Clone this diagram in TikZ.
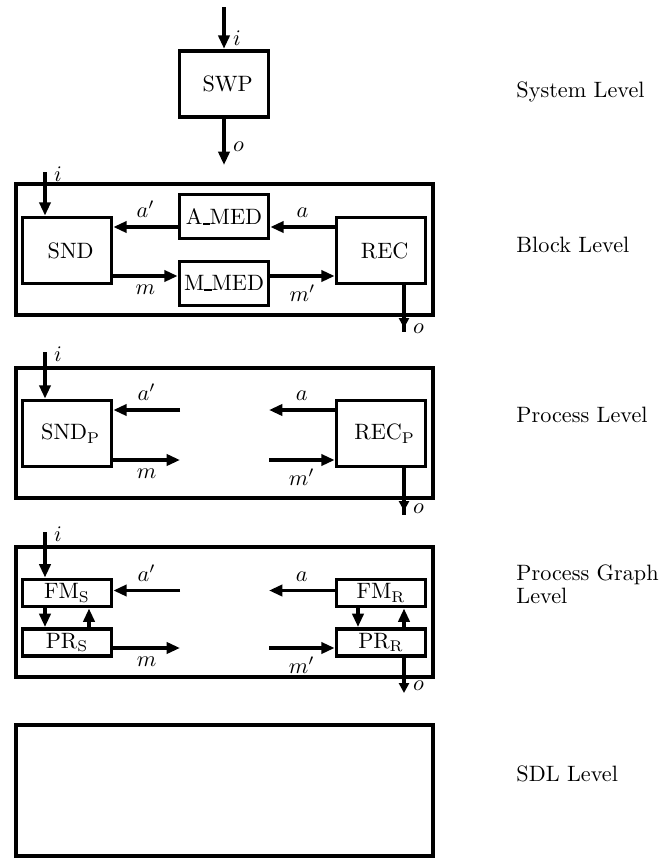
\documentclass[tikz,border=0pt]{standalone}
\usetikzlibrary{positioning,arrows.meta}
\newcommand\lowbar{\rule[-0.2pt]{0.32em}{0.9pt}}
\begin{document}
\begin{tikzpicture}[
    x=0.45pt, y=-0.45pt,
    box/.style={draw, line width=1.7pt, minimum width=40pt, minimum height=29.7pt, inner sep=1pt},
    medbox/.style={box, minimum height=19.8pt},
    flatbox/.style={box, minimum height=12.2pt},
    frame/.style={draw, line width=2pt, minimum width=187.6pt, minimum height=59pt},
    arr/.style={line width=1.5pt, -{Triangle[length=6pt,width=5pt]}},
    tip/.style={line width=1.5pt, -{Triangle[length=4.5pt,width=4.5pt]}},
    wire/.style={line width=1.5pt},
    lvl/.style={anchor=base west, align=left, inner sep=0pt}
]
\useasboundingbox (0,0) rectangle (660,861);

% columns and rows used by the connectors
\coordinate (cin) at (45,0);
\coordinate (cout) at (404,0);

% System level
\node[box, minimum height=30pt] (SWP) at (224,84) {\ SWP};
\coordinate (i0) at (224,7);
\coordinate (o0) at (224,165);
\draw[arr] (i0) -- node[right, pos=0.75] {$i$} (SWP.north);
\draw[arr] (SWP.south) -- node[right, pos=0.6] {$o$} (o0);
\node[lvl] (L0) at (516,97) {System Level};

% Block level
\node[frame] (F1) at (224.5,249.5) {};
\node[box] (SND) at (67,250.5) {\ SND};
\node[medbox] (AMED) at (224,216.5) {A\lowbar MED};
\node[medbox] (MMED) at (224,283.5) {M\lowbar MED};
\node[box] (REC) at (381,250.5) {\ REC};
\coordinate (ra1) at (0,227);
\coordinate (rm1) at (0,276);
\coordinate (i1) at (45,172);
\coordinate (o1) at (404,328);
\coordinate (e1) at (404,332);
\draw[arr] (i1) -- node[right, pos=0.05] {$i$} (SND.north -| cin);
\draw[arr] (AMED.west |- ra1) -- node[above] {$a'$} (SND.east |- ra1);
\draw[arr] (REC.west |- ra1) -- node[above] {$a$} (AMED.east |- ra1);
\draw[arr] (SND.east |- rm1) -- node[below] {$m$} (MMED.west |- rm1);
\draw[arr] (MMED.east |- rm1) -- node[below] {$m'$} (REC.west |- rm1);
\draw[tip] (REC.south -| cout) -- (o1);
\draw[wire] (F1.south -| cout) -- node[right, pos=0.75] {$o$} (e1);
\node[lvl] (L1) at (516,252) {Block Level};

% Process level
\node[frame, minimum height=58.5pt] (F2) at (224.5,433) {};
\node[box] (SNDP) at (67,433.5) {\ SND$_{\mathrm{P}}$};
\node[box] (RECP) at (381,433.5) {\ REC$_{\mathrm{P}}$};
\coordinate (sa2) at (180,410);
\coordinate (ta2) at (269,410);
\coordinate (sm2) at (180,460);
\coordinate (tm2) at (269,460);
\coordinate (i2) at (45,352);
\coordinate (o2) at (404,511);
\coordinate (e2) at (404,515);
\draw[arr] (i2) -- node[right, pos=0.05] {$i$} (SNDP.north -| cin);
\draw[arr] (sa2) -- node[above] {$a'$} (SNDP.east |- sa2);
\draw[arr] (RECP.west |- ta2) -- node[above] {$a$} (ta2);
\draw[arr] (SNDP.east |- sm2) -- node[below] {$m$} (sm2);
\draw[arr] (tm2) -- node[below] {$m'$} (RECP.west |- tm2);
\draw[tip] (RECP.south -| cout) -- (o2);
\draw[wire] (F2.south -| cout) -- node[right, pos=0.6] {$o$} (e2);
\node[lvl] (L2) at (516,422) {Process Level};

% Process graph level
\node[frame, minimum height=58.5pt] (F3) at (224.5,612) {};
\node[flatbox] (FMS) at (67,593) {FM$_{\mathrm{S}}$};
\node[flatbox] (PRS) at (67,642.5) {PR$_{\mathrm{S}}$};
\node[flatbox] (FMR) at (381,593) {FM$_{\mathrm{R}}$};
\node[flatbox] (PRR) at (381,642.5) {PR$_{\mathrm{R}}$};
\coordinate (cup) at (89,0);
\coordinate (cdn) at (358,0);
\coordinate (sa3) at (180,590.5);
\coordinate (ta3) at (269,590.5);
\coordinate (sm3) at (180,648);
\coordinate (tm3) at (269,648);
\coordinate (i3) at (45,532);
\coordinate (o3) at (404,693);
\draw[arr] (i3) -- node[right, pos=0.05] {$i$} (FMS.north -| cin);
\draw[arr] (FMS.south -| cin) -- (PRS.north -| cin);
\draw[arr] (PRS.north -| cup) -- (FMS.south -| cup);
\draw[arr] (FMR.south -| cdn) -- (PRR.north -| cdn);
\draw[arr] (PRR.north -| cout) -- (FMR.south -| cout);
\draw[arr] (sa3) -- node[above] {$a'$} (FMS.east |- sa3);
\draw[arr] (FMR.west |- ta3) -- node[above] {$a$} (ta3);
\draw[arr] (PRS.east |- sm3) -- node[below] {$m$} (sm3);
\draw[arr] (tm3) -- node[below] {$m'$} (PRR.west |- tm3);
\draw[tip] (PRR.south -| cout) -- node[right, pos=0.8] {$o$} (o3);
\node[lvl] (L3) at (516,603) {Process Graph\\[-2pt]Level};

% SDL level
\node[frame] (F4) at (224.5,790.5) {};
\node[lvl] (L4) at (516,781) {SDL Level};
\end{tikzpicture}
\end{document}
